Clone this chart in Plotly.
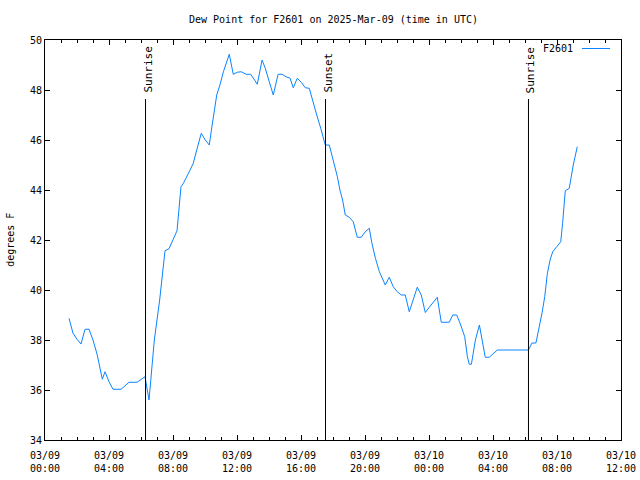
import plotly.graph_objects as go

times = [
    "2025-03-09 01:30", "2025-03-09 01:45", "2025-03-09 02:00", "2025-03-09 02:15",
    "2025-03-09 02:30", "2025-03-09 02:45", "2025-03-09 03:00", "2025-03-09 03:15",
    "2025-03-09 03:35", "2025-03-09 03:45", "2025-03-09 04:00", "2025-03-09 04:15",
    "2025-03-09 04:45", "2025-03-09 05:15", "2025-03-09 05:45", "2025-03-09 06:15",
    "2025-03-09 06:30", "2025-03-09 06:50", "2025-03-09 07:10", "2025-03-09 07:30",
    "2025-03-09 07:45", "2025-03-09 08:00", "2025-03-09 08:15", "2025-03-09 08:30",
    "2025-03-09 08:39", "2025-03-09 09:04", "2025-03-09 09:16", "2025-03-09 09:29",
    "2025-03-09 09:46", "2025-03-09 10:01", "2025-03-09 10:16", "2025-03-09 10:24",
    "2025-03-09 10:44", "2025-03-09 10:56", "2025-03-09 11:09", "2025-03-09 11:31",
    "2025-03-09 11:46", "2025-03-09 12:01", "2025-03-09 12:16", "2025-03-09 12:34",
    "2025-03-09 12:51", "2025-03-09 13:06", "2025-03-09 13:16", "2025-03-09 13:34",
    "2025-03-09 13:46", "2025-03-09 14:01", "2025-03-09 14:16", "2025-03-09 14:34",
    "2025-03-09 14:49", "2025-03-09 15:04", "2025-03-09 15:19", "2025-03-09 15:31",
    "2025-03-09 15:46", "2025-03-09 16:01", "2025-03-09 16:16", "2025-03-09 16:31",
    "2025-03-09 16:46", "2025-03-09 16:59", "2025-03-09 17:14", "2025-03-09 17:31",
    "2025-03-09 17:46", "2025-03-09 18:01", "2025-03-09 18:16", "2025-03-09 18:26",
    "2025-03-09 18:36", "2025-03-09 18:46", "2025-03-09 19:01", "2025-03-09 19:16",
    "2025-03-09 19:31", "2025-03-09 19:46", "2025-03-09 20:01", "2025-03-09 20:16",
    "2025-03-09 20:26", "2025-03-09 20:39", "2025-03-09 20:54", "2025-03-09 21:16",
    "2025-03-09 21:31", "2025-03-09 21:46", "2025-03-09 22:01", "2025-03-09 22:16",
    "2025-03-09 22:31", "2025-03-09 22:46", "2025-03-09 23:01", "2025-03-09 23:16",
    "2025-03-09 23:31", "2025-03-09 23:46", "2025-03-10 00:01", "2025-03-10 00:16",
    "2025-03-10 00:31", "2025-03-10 00:46", "2025-03-10 01:16", "2025-03-10 01:29",
    "2025-03-10 01:44", "2025-03-10 01:59", "2025-03-10 02:14", "2025-03-10 02:24",
    "2025-03-10 02:31", "2025-03-10 02:39", "2025-03-10 02:54", "2025-03-10 03:09",
    "2025-03-10 03:19", "2025-03-10 03:31", "2025-03-10 03:46", "2025-03-10 04:01",
    "2025-03-10 04:16", "2025-03-10 06:13", "2025-03-10 06:26", "2025-03-10 06:41",
    "2025-03-10 06:54", "2025-03-10 07:04", "2025-03-10 07:14", "2025-03-10 07:24",
    "2025-03-10 07:34", "2025-03-10 07:44", "2025-03-10 07:59", "2025-03-10 08:14",
    "2025-03-10 08:21", "2025-03-10 08:31", "2025-03-10 08:46", "2025-03-10 09:01",
    "2025-03-10 09:16",
]
dew_point = [
    38.87, 38.27, 38.03, 37.84,
    38.43, 38.43, 38.00, 37.44,
    36.43, 36.73, 36.33, 36.03,
    36.03, 36.31, 36.31, 36.53,
    35.60, 38.00, 39.60, 41.57,
    41.65, 42.00, 42.37, 44.13,
    44.27, 44.80, 45.07, 45.60,
    46.27, 46.00, 45.80, 46.40,
    47.80, 48.20, 48.73, 49.43,
    48.63, 48.71, 48.73, 48.63,
    48.63, 48.40, 48.23, 49.20,
    48.87, 48.33, 47.80, 48.63,
    48.63, 48.53, 48.47, 48.09,
    48.47, 48.31, 48.09, 48.07,
    47.47, 47.00, 46.47, 45.80,
    45.80, 45.20, 44.55, 44.00,
    43.60, 43.00, 42.91, 42.73,
    42.11, 42.11, 42.33, 42.47,
    41.87, 41.27, 40.73, 40.20,
    40.51, 40.13, 39.93, 39.80,
    39.80, 39.13, 39.67, 40.11,
    39.80, 39.10, 39.31, 39.51,
    39.71, 38.71, 38.71, 39.00,
    39.00, 38.60, 38.13, 37.33,
    37.03, 37.03, 38.00, 38.60,
    37.93, 37.31, 37.31, 37.47,
    37.60, 37.60, 37.88, 37.88,
    38.50, 39.09, 39.73, 40.67,
    41.20, 41.53, 41.73, 41.93,
    42.67, 43.97, 44.07, 45.00,
    45.73,
]

event_times = ["2025-03-09 06:17", "2025-03-09 17:32", "2025-03-10 06:13"]
event_labels = ["Sunrise", "Sunset", "Sunrise"]
event_top = 47.64

x_ticks = ["2025-03-09 00:00", "2025-03-09 04:00", "2025-03-09 08:00", "2025-03-09 12:00",
           "2025-03-09 16:00", "2025-03-09 20:00", "2025-03-10 00:00", "2025-03-10 04:00",
           "2025-03-10 08:00", "2025-03-10 12:00"]
x_tick_text = ["03/09<br>00:00", "03/09<br>04:00", "03/09<br>08:00", "03/09<br>12:00",
               "03/09<br>16:00", "03/09<br>20:00", "03/10<br>00:00", "03/10<br>04:00",
               "03/10<br>08:00", "03/10<br>12:00"]
y_ticks = [34, 36, 38, 40, 42, 44, 46, 48, 50]

FONT = "DejaVu Sans Mono"
LINE_COLOR = "#0a84ff"

fig = go.Figure()
fig.add_trace(go.Scatter(x=times, y=dew_point, mode="lines", name="F2601",
                         line=dict(color=LINE_COLOR, width=1), showlegend=False))

for t, lab in zip(event_times, event_labels):
    fig.add_trace(go.Scatter(x=[t, t], y=[34, event_top], mode="lines",
                             line=dict(color="black", width=1), showlegend=False,
                             hoverinfo="skip"))
    fig.add_annotation(x=t, y=event_top, xref="x", yref="y", text=lab,
                       textangle=-90, showarrow=False, xanchor="center",
                       yanchor="bottom", xshift=2, yshift=4,
                       font=dict(family=FONT, size=11, color="black"))

# title
fig.add_annotation(x=0.5, y=1.05, xref="paper", yref="paper",
                   text="Dew Point for F2601 on 2025-Mar-09 (time in UTC)",
                   showarrow=False, xanchor="center", yanchor="middle",
                   font=dict(family=FONT, size=10, color="black"))
# y label
fig.add_annotation(x=-0.061, y=0.5, xref="paper", yref="paper", text="degrees F",
                   textangle=-90, showarrow=False, xanchor="center", yanchor="middle",
                   font=dict(family=FONT, size=10, color="black"))
# legend
fig.add_annotation(x=(575 - 45) / 576, y=(440 - 48) / 400, xref="paper", yref="paper",
                   text="F2601", showarrow=False, xanchor="right", yanchor="middle",
                   font=dict(family=FONT, size=10, color="black"))
fig.add_shape(type="line", xref="paper", yref="paper",
              x0=(582 - 45) / 576, x1=(610 - 45) / 576,
              y0=(440 - 48.5) / 400, y1=(440 - 48.5) / 400,
              line=dict(color=LINE_COLOR, width=1))

fig.update_layout(
    width=640, height=480,
    margin=dict(l=45, r=19, t=40, b=40),
    paper_bgcolor="white", plot_bgcolor="white",
    font=dict(family=FONT, size=10, color="black"),
    showlegend=False,
    xaxis=dict(
        type="date", range=["2025-03-09 00:00", "2025-03-10 12:00"],
        tickmode="array", tickvals=x_ticks, ticktext=x_tick_text,
        ticks="inside", ticklen=5, tickcolor="black", tickwidth=1,
        showline=True, linecolor="black", linewidth=1, mirror="ticks",
        showgrid=False, zeroline=False, automargin=False,
        minor=dict(dtick=3600000, ticks="inside", ticklen=3, tickcolor="black",
                   showgrid=False),
        tickfont=dict(family=FONT, size=10),
        ticklabelstandoff=6,
    ),
    yaxis=dict(
        range=[34, 50], tickmode="array", tickvals=y_ticks,
        ticks="inside", ticklen=5, tickcolor="black", tickwidth=1,
        showline=True, linecolor="black", linewidth=1, mirror="ticks",
        showgrid=False, zeroline=False, automargin=False,
        tickfont=dict(family=FONT, size=10),
    ),
)

fig.write_html("out.html")
